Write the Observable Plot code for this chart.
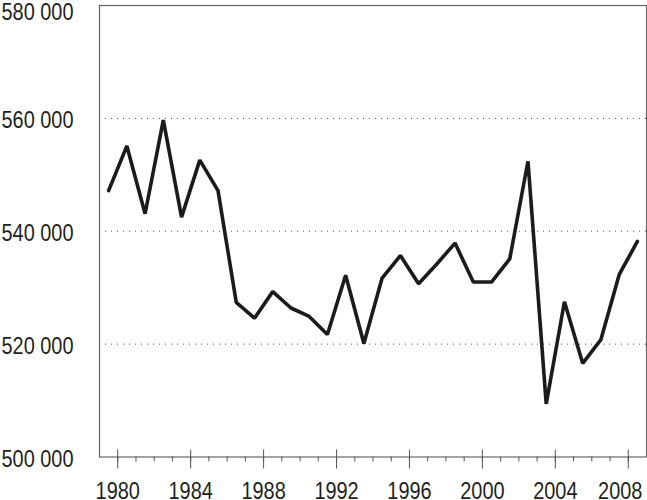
<!DOCTYPE html>
<html>
<head>
<meta charset="utf-8">
<script src="https://cdn.jsdelivr.net/npm/d3@7"></script>
<script src="https://cdn.jsdelivr.net/npm/@observablehq/plot@0.6"></script>
<style>
  html, body { margin: 0; padding: 0; background: #fff; }
</style>
</head>
<body>
<div id="chart"></div>
<script>
const years = [1979, 1980, 1981, 1982, 1983, 1984, 1985, 1986, 1987, 1988,
               1989, 1990, 1991, 1992, 1993, 1994, 1995, 1996, 1997, 1998,
               1999, 2000, 2001, 2002, 2003, 2004, 2005, 2006, 2007, 2008];
const values = [547200, 555100, 543100, 559700, 542500, 552600, 547200, 527400, 524600, 529300,
                526400, 524900, 521700, 532200, 520100, 531700, 535700, 530700, 534200, 537900,
                531000, 531000, 535100, 552400, 509400, 527500, 516600, 520800, 532300, 538200];
const yTicks = [500000, 520000, 540000, 560000];
const yTopTick = [580000];
const gridValues = [520000, 540000, 560000];
const majorYears = [1980, 1984, 1988, 1992, 1996, 2000, 2004];
const lastYear = [2008];
const minorYears = years.slice(1);

const data = years.map((year, i) => ({year, value: values[i]}));
const fmt = d => d3.format(",")(d).replace(/,/g, " ");
const font = "'Liberation Sans', Arial, Helvetica, sans-serif";
const ink = "#231f20";

const chart = Plot.plot({
  width: 647,
  height: 500,
  marginTop: 5,
  marginBottom: 43.5,
  marginLeft: 99,
  marginRight: 1,
  style: {fontFamily: font, fontSize: "24px", color: ink, background: "#fff"},
  x: {domain: [1979, 2009], label: null},
  y: {domain: [500000, 580000], label: null},
  marks: [
    Plot.ruleY(gridValues, {stroke: "#555", strokeWidth: 1, strokeDasharray: "1,5"}),
    Plot.frame({stroke: "#666", strokeWidth: 1.2}),
    Plot.line(data, {x: d => d.year + 0.5, y: "value", stroke: "#1c1a1a", strokeWidth: 3.6, strokeLinejoin: "miter"}),
    Plot.axisY({ticks: yTicks, tickSize: 0, tickPadding: 26, tickFormat: fmt, fontSize: 24, fill: ink, dy: 2, label: null}),
    Plot.axisY({ticks: yTopTick, tickSize: 0, tickPadding: 26, tickFormat: fmt, fontSize: 24, fill: ink, dy: 7, label: null}),
    Plot.axisX({ticks: minorYears, tickSize: 5, tickFormat: () => "", stroke: "#555", label: null}),
    Plot.axisX({ticks: [...majorYears, ...lastYear], tickSize: 19, dy: -7, tickFormat: () => "", stroke: "#555", label: null}),
    Plot.axisX({ticks: majorYears, tickSize: 0, tickPadding: 24.5, tickFormat: d => String(d), fontSize: 24, fill: ink, label: null}),
    Plot.axisX({ticks: lastYear, tickSize: 0, tickPadding: 24.5, tickFormat: d => String(d), fontSize: 24, fill: ink, dx: -8, label: null})
  ]
});
document.getElementById("chart").appendChild(chart);

// condense the tick labels horizontally, like the narrow face of the original
d3.select(chart).selectAll('g[aria-label="y-axis tick label"] text, g[aria-label="x-axis tick label"] text')
  .each(function() {
    const t = this.getAttribute("transform");
    if (t) {
      this.setAttribute("transform", t + " scale(0.83,1)");
    } else {
      const x = +this.getAttribute("x") || 0;
      const y = +this.getAttribute("y") || 0;
      this.removeAttribute("x");
      this.removeAttribute("y");
      this.setAttribute("transform", `translate(${x},${y}) scale(0.83,1)`);
    }
  });
</script>
</body>
</html>
